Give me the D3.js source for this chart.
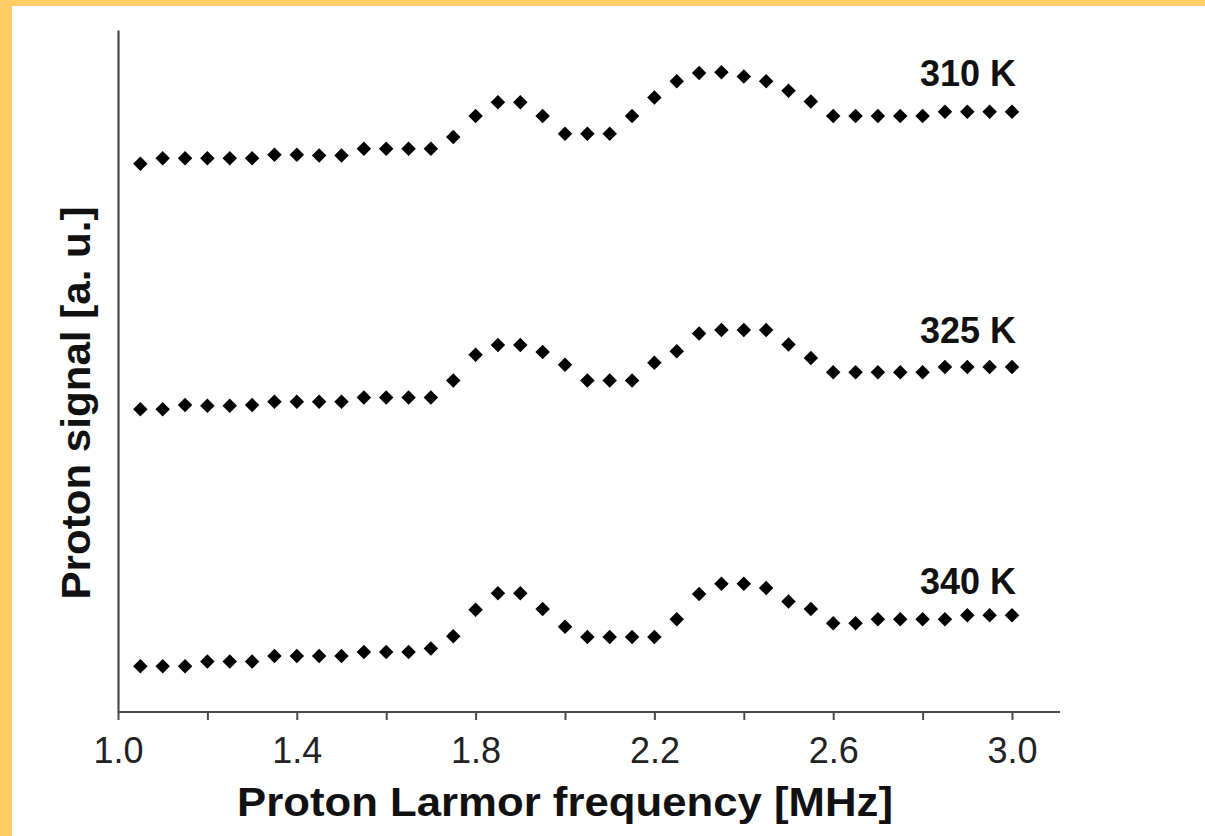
<!DOCTYPE html>
<html>
<head>
<meta charset="utf-8">
<script src="https://cdn.jsdelivr.net/npm/d3@7"></script>
<style>
  html, body { margin: 0; padding: 0; background: #ffffff; }
  svg { display: block; }
  text { font-family: "Liberation Sans", Arial, Helvetica, sans-serif; }
</style>
</head>
<body>
<svg id="chart" width="1205" height="836"></svg>
<script>
// Larmor frequencies (MHz), sampled every 0.05 MHz
const frequencies = [
  1.05, 1.10, 1.15, 1.20, 1.25, 1.30, 1.35, 1.40, 1.45, 1.50,
  1.55, 1.60, 1.65, 1.70, 1.75, 1.80, 1.85, 1.90, 1.95, 2.00,
  2.05, 2.10, 2.15, 2.20, 2.25, 2.30, 2.35, 2.40, 2.45, 2.50,
  2.55, 2.60, 2.65, 2.70, 2.75, 2.80, 2.85, 2.90, 2.95, 3.00
];

// Proton signal (a.u., curves offset vertically)
const signal310K = [
  80.4, 81.2, 81.2, 81.2, 81.2, 81.2, 81.7, 81.7, 81.6, 81.6,
  82.6, 82.6, 82.6, 82.6, 84.3, 87.4, 89.4, 89.4, 87.4, 84.8,
  84.8, 84.8, 87.4, 90.1, 92.5, 93.7, 93.8, 93.2, 92.5, 91.1,
  89.5, 87.4, 87.4, 87.4, 87.4, 87.4, 88.0, 88.0, 88.0, 88.0
];
const signal325K = [
  44.4, 44.4, 45.0, 44.9, 44.9, 45.0, 45.5, 45.5, 45.5, 45.5,
  46.1, 46.1, 46.1, 46.1, 48.6, 52.4, 53.8, 53.8, 52.8, 50.9,
  48.6, 48.6, 48.6, 51.2, 52.9, 55.5, 56.0, 56.0, 56.0, 53.9,
  51.9, 49.8, 49.8, 49.8, 49.8, 49.8, 50.6, 50.6, 50.6, 50.6
];
const signal340K = [
  6.7, 6.7, 6.7, 7.4, 7.4, 7.4, 8.2, 8.2, 8.2, 8.2,
  8.8, 8.8, 8.8, 9.3, 11.1, 15.0, 17.4, 17.4, 15.1, 12.5,
  11.0, 11.0, 11.0, 11.0, 13.6, 17.3, 18.8, 18.8, 18.2, 16.2,
  15.1, 13.0, 13.0, 13.6, 13.6, 13.6, 13.6, 14.2, 14.2, 14.2
];

const seriesNames = ["310 K", "325 K", "340 K"];
const seriesValues = [signal310K, signal325K, signal340K];
const labelLevels = [91.8, 54.1, 17.3];

const xTicks = [1.0, 1.2, 1.4, 1.6, 1.8, 2.0, 2.2, 2.4, 2.6, 2.8, 3.0];
const xTickLabels = ["1.0", "", "1.4", "", "1.8", "", "2.2", "", "2.6", "", "3.0"];

const svg = d3.select("#chart");
const W = 1205, H = 836;

// frame: white page with a warm band along the top and left edges
svg.append("rect").attr("x", 0).attr("y", 0).attr("width", W).attr("height", H).attr("fill", "#ffffff");
svg.append("rect").attr("x", 0).attr("y", 0).attr("width", W).attr("height", 6).attr("fill", "#FFCC66");
svg.append("rect").attr("x", 0).attr("y", 0).attr("width", 12).attr("height", H).attr("fill", "#FFCC66");

const x = d3.scaleLinear().domain([1.0, 3.0]).range([118, 1012]);
const y = d3.scaleLinear().domain([0, 100]).range([712, 30]);

const axisColor = "#4a4a4a";

// x axis
const xAxis = d3.axisBottom(x)
  .tickValues(xTicks)
  .tickFormat((d, i) => xTickLabels[i])
  .tickSize(8)
  .tickSizeOuter(0)
  .tickPadding(17);

const gx = svg.append("g").attr("transform", `translate(0,${y(0)})`).call(xAxis);
gx.select(".domain").attr("d", `M118,0H1060`).attr("stroke", axisColor).attr("stroke-width", 2.2);
gx.selectAll(".tick line").attr("stroke", axisColor).attr("stroke-width", 2);
gx.selectAll(".tick text")
  .attr("fill", "#222")
  .attr("font-size", 36)
  .attr("font-family", "'Liberation Sans', Arial, sans-serif");

// y axis (line only)
const yAxis = d3.axisLeft(y).tickValues([]).tickSizeOuter(0);
const gy = svg.append("g").attr("transform", `translate(${x(1.0)},0)`).call(yAxis);
gy.select(".domain").attr("stroke", axisColor).attr("stroke-width", 2.2);

// axis titles
svg.append("text")
  .attr("x", (x(1.0) + x(3.0)) / 2)
  .attr("y", 816)
  .attr("text-anchor", "middle")
  .attr("font-weight", "bold")
  .attr("font-size", 40)
  .attr("textLength", 656)
  .attr("lengthAdjust", "spacingAndGlyphs")
  .attr("fill", "#111")
  .text("Proton Larmor frequency [MHz]");

svg.append("text")
  .attr("transform", "translate(90,403) rotate(-90)")
  .attr("text-anchor", "middle")
  .attr("font-weight", "bold")
  .attr("font-size", 41)
  .attr("textLength", 393)
  .attr("lengthAdjust", "spacingAndGlyphs")
  .attr("fill", "#111")
  .text("Proton signal [a. u.]");

// diamond marker with slightly pinched sides
const pinchedDiamond = {
  draw(ctx, size) {
    const r = Math.sqrt(size) / 2;
    const c = r * 0.5;
    ctx.moveTo(0, -r);
    ctx.quadraticCurveTo(c, -c, r, 0);
    ctx.quadraticCurveTo(c, c, 0, r);
    ctx.quadraticCurveTo(-c, c, -r, 0);
    ctx.quadraticCurveTo(-c, -c, 0, -r);
    ctx.closePath();
  }
};
const marker = d3.symbol().type(pinchedDiamond).size(14.5 * 14.5);

seriesValues.forEach((vals, s) => {
  const g = svg.append("g").attr("class", "series");
  g.selectAll("path")
    .data(frequencies.map((f, i) => [f, vals[i]]))
    .join("path")
    .attr("d", marker)
    .attr("transform", d => `translate(${x(d[0])},${y(d[1])})`)
    .attr("fill", "#000");

  svg.append("text")
    .attr("x", x(3.0) + 4)
    .attr("y", y(labelLevels[s]))
    .attr("text-anchor", "end")
    .attr("font-weight", "bold")
    .attr("font-size", 36)
    .attr("fill", "#111")
    .text(seriesNames[s]);
});
</script>
</body>
</html>
